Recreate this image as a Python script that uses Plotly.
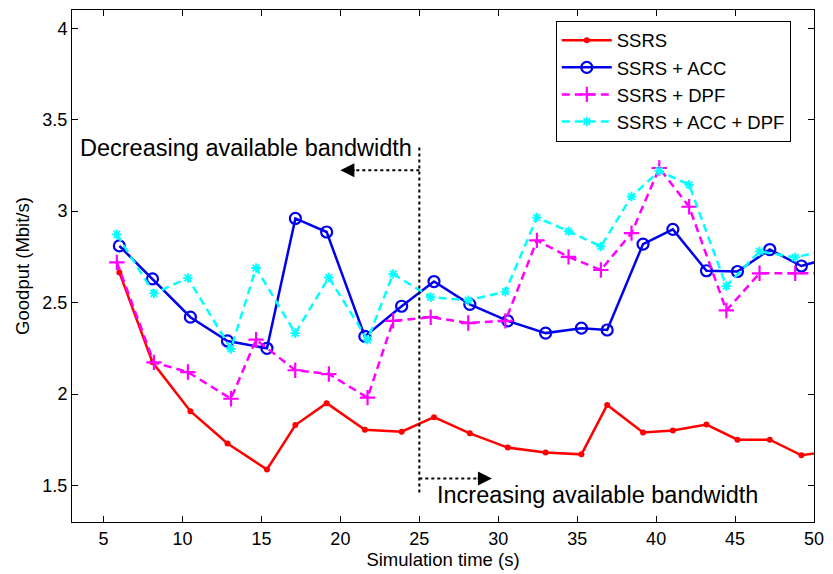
import plotly.graph_objects as go

# ---- data ----
t_a = [6.0, 8.1, 10.5, 12.85, 15.35, 17.15, 19.13, 21.55, 23.88, 25.93, 28.2,
       30.6, 33.0, 35.27, 36.9, 39.17, 41.06, 43.19, 45.15, 47.2, 49.2, 51.2]
t_b = [5.84, 8.19, 10.34, 13.07, 14.66, 17.14, 19.27, 21.72, 23.34, 25.72, 28.1,
       30.45, 32.45, 34.45, 36.5, 38.44, 40.2, 42.09, 44.45, 46.55, 48.81, 51.0]

ssrs = [2.665, 2.173, 1.906, 1.729, 1.587, 1.83, 1.95, 1.805, 1.794, 1.873, 1.785,
        1.707, 1.68, 1.67, 1.94, 1.79, 1.80, 1.833, 1.75, 1.75, 1.665, 1.69]
ssrs_acc = [2.81, 2.63, 2.42, 2.29, 2.25, 2.96, 2.886, 2.315, 2.48, 2.615, 2.49,
            2.40, 2.333, 2.36, 2.35, 2.82, 2.90, 2.674, 2.67, 2.79, 2.70, 2.75]
ssrs_dpf = [2.72, 2.173, 2.12, 1.974, 2.297, 2.13, 2.109, 1.98, 2.40, 2.42, 2.388,
            2.40, 2.84, 2.75, 2.678, 2.88, 3.236, 3.024, 2.457, 2.66, 2.66, 2.66]
ssrs_acc_dpf = [2.873, 2.55, 2.634, 2.247, 2.689, 2.333, 2.637, 2.297, 2.656, 2.53, 2.512,
                2.56, 2.965, 2.89, 2.807, 3.08, 3.22, 3.144, 2.59, 2.78, 2.747, 2.79]

series_names = ["SSRS", "SSRS + ACC", "SSRS + DPF", "SSRS + ACC + DPF"]

x_ticks = [5, 10, 15, 20, 25, 30, 35, 40, 45, 50]
y_ticks = [1.5, 2, 2.5, 3, 3.5, 4]
y_tick_labels = ["1.5", "2", "2.5", "3", "3.5", "4"]

# annotation geometry (data units)
split_t = 25
split_top, split_bottom = 3.348, 1.447
dec_arrow_y, dec_arrow_tip = 3.223, 20.0
inc_arrow_y, inc_arrow_tip = 1.538, 29.6
dec_text = "Decreasing available bandwidth"
inc_text = "Increasing available bandwidth"

FONT = "Liberation Sans, Arial, sans-serif"

fig = go.Figure()
fig.add_trace(go.Scatter(x=t_a, y=ssrs, name=series_names[0], mode="lines+markers",
                         line=dict(color="#ff0000", width=2.5),
                         marker=dict(symbol="circle", size=6, color="#ff0000")))
fig.add_trace(go.Scatter(x=t_a, y=ssrs_acc, name=series_names[1], mode="lines+markers",
                         line=dict(color="#0000ee", width=2.5),
                         marker=dict(symbol="circle-open", size=11, color="#0000ee",
                                     line=dict(width=2.2, color="#0000ee"))))
fig.add_trace(go.Scatter(x=t_b, y=ssrs_dpf, name=series_names[2], mode="lines+markers",
                         line=dict(color="#ff00ff", width=2.5, dash="8px,5px"),
                         marker=dict(symbol="cross-thin-open", size=11, color="#ff00ff",
                                     line=dict(width=2.2, color="#ff00ff"))))
fig.add_trace(go.Scatter(x=t_b, y=ssrs_acc_dpf, name=series_names[3], mode="lines+markers",
                         line=dict(color="#00ffff", width=2.5, dash="8px,5px"),
                         marker=dict(symbol="asterisk-open", size=8, color="#00ffff",
                                     line=dict(width=1.8, color="#00ffff"))))

dot = dict(color="black", width=2, dash="dot")
fig.add_shape(type="line", x0=split_t, x1=split_t, y0=split_top, y1=split_bottom, line=dot)
fig.add_shape(type="line", x0=split_t, x1=dec_arrow_tip + 0.4, y0=dec_arrow_y, y1=dec_arrow_y, line=dot)
fig.add_shape(type="line", x0=split_t, x1=inc_arrow_tip - 0.4, y0=inc_arrow_y, y1=inc_arrow_y, line=dot)

for tip, y, tail in [(dec_arrow_tip, dec_arrow_y, dec_arrow_tip + 1.0),
                     (inc_arrow_tip, inc_arrow_y, inc_arrow_tip - 1.0)]:
    fig.add_annotation(x=tip, y=y, ax=tail, ay=y, xref="x", yref="y", axref="x", ayref="y",
                       showarrow=True, arrowhead=2, arrowsize=1.4, arrowwidth=2,
                       arrowcolor="black", text="")

fig.add_annotation(x=split_t - 0.35, y=split_top, text=dec_text, showarrow=False,
                   xanchor="right", yanchor="middle", font=dict(size=23.5, color="black", family=FONT))
fig.add_annotation(x=split_t + 1.0, y=split_bottom, text=inc_text, showarrow=False,
                   xanchor="left", yanchor="middle", font=dict(size=23.5, color="black", family=FONT))

axis_common = dict(showgrid=False, zeroline=False, showline=True, linecolor="black",
                   linewidth=1, mirror="ticks", ticks="inside", ticklen=6, tickcolor="black",
                   tickfont=dict(size=18, color="black", family=FONT))
fig.update_xaxes(range=[3, 50], tickvals=x_ticks,
                 title=dict(text="Simulation time (s)", font=dict(size=18.5, color="black", family=FONT),
                            standoff=3),
                 **axis_common)
fig.update_yaxes(range=[1.3, 4.1], tickvals=y_ticks, ticktext=y_tick_labels,
                 title=dict(text="Goodput (Mbit/s)", font=dict(size=18.5, color="black", family=FONT),
                            standoff=7),
                 **axis_common)

fig.update_layout(
    width=833, height=574,
    margin=dict(l=72, r=15, t=9, b=52),
    paper_bgcolor="white", plot_bgcolor="white",
    font=dict(family=FONT, color="black"),
    legend=dict(x=0.652, y=0.979, xanchor="left", yanchor="top",
                bgcolor="white", bordercolor="black", borderwidth=1,
                font=dict(size=18.5, color="black", family=FONT),
                tracegroupgap=0, itemwidth=50),
    showlegend=True,
)

fig.write_html("out.html")
